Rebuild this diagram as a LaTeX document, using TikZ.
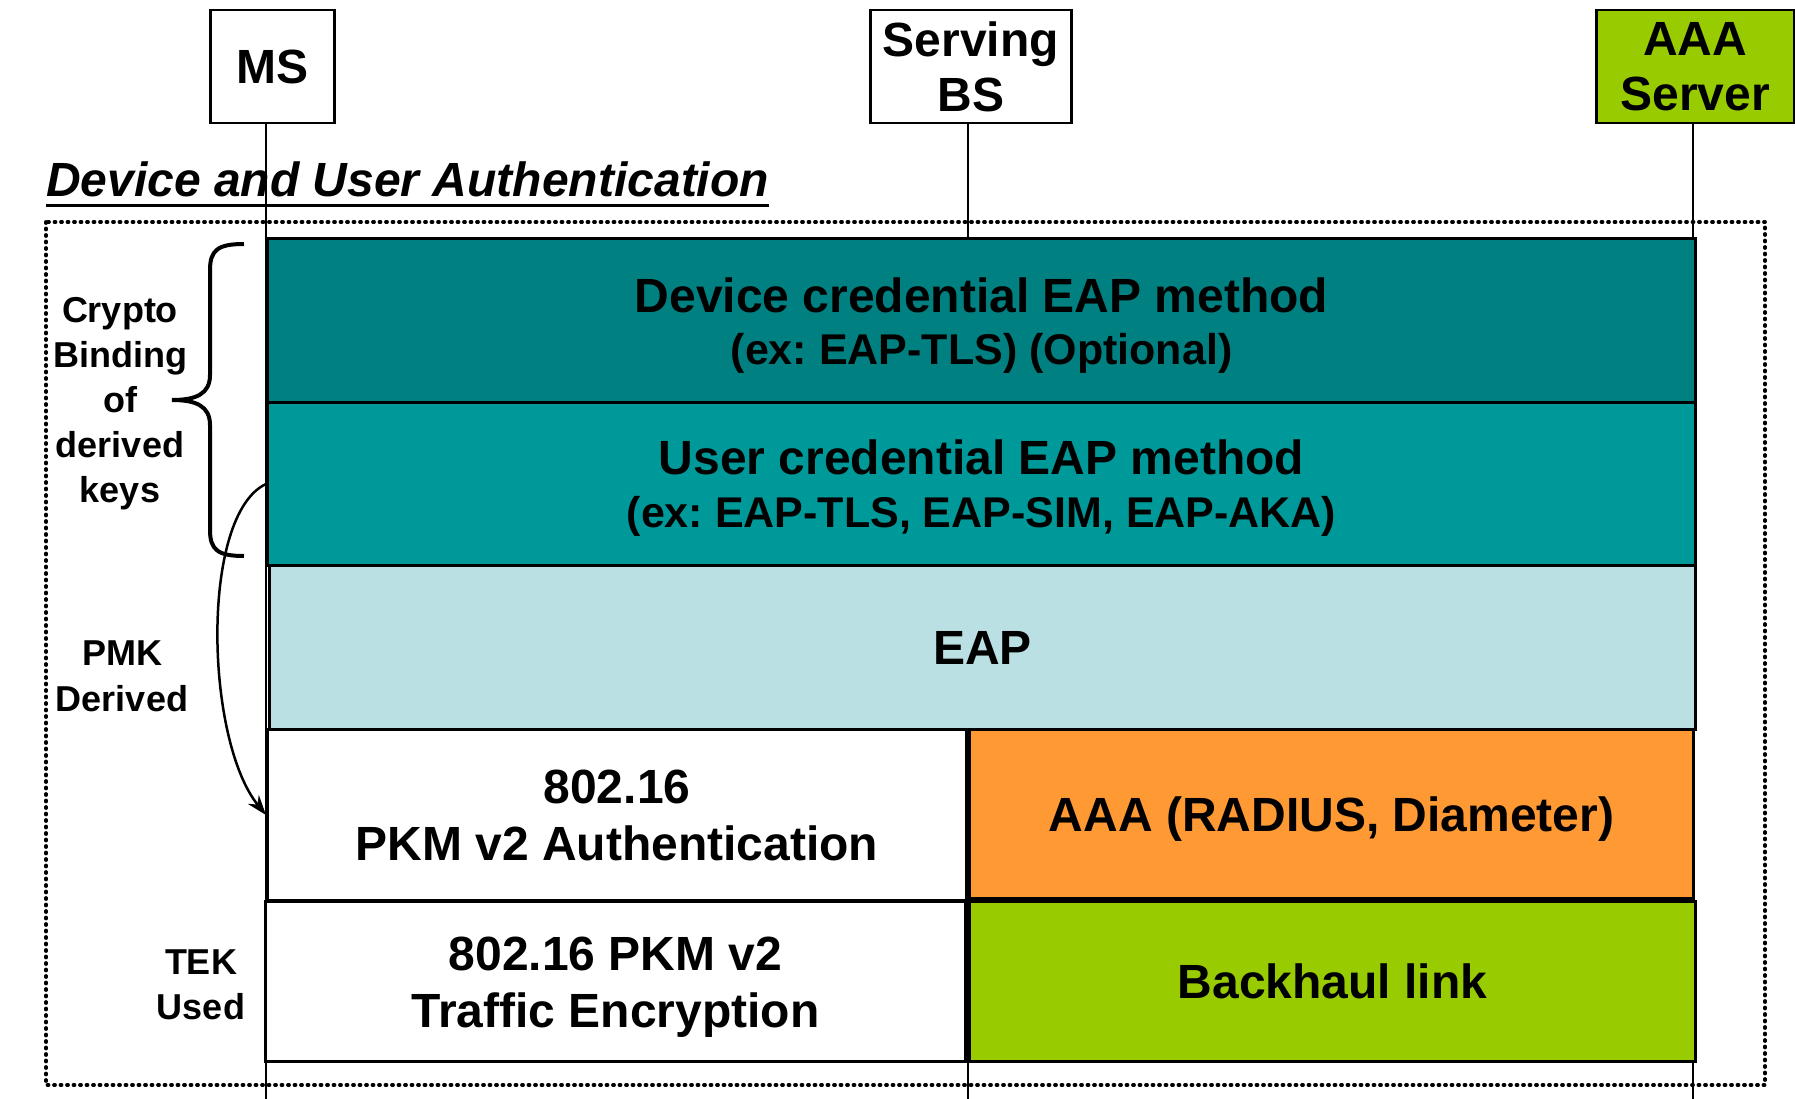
\documentclass[tikz,border=0pt]{standalone}
\usepackage{fontspec}
\setmainfont{Liberation Sans}
\usetikzlibrary{arrows.meta,calc}
\definecolor{devteal}{HTML}{008080}
\definecolor{usrteal}{HTML}{009999}
\definecolor{eapblue}{HTML}{BBE0E3}
\definecolor{aaaorange}{HTML}{FF9933}
\definecolor{limegreen}{HTML}{99CC00}
\newcommand\shiftdown[2]{\raisebox{-#1}[\height][\depth]{#2}}
\tikzset{
  hdr/.style={draw=black, line width=2.5pt, inner sep=0pt, align=center, anchor=north west,
    font=\fontsize{48}{55}\selectfont\bfseries},
  layer/.style={draw=black, line width=3pt, inner sep=0pt, align=center, anchor=north west,
    font=\fontsize{48}{55}\selectfont\bfseries},
  side/.style={align=center, inner sep=0pt, font=\fontsize{36}{45}\selectfont\bfseries},
  life/.style={line width=2pt},
  dotbox/.style={line width=3.8pt, line cap=round, dash pattern=on 1pt off 5.5pt},
}
\frenchspacing
\begin{document}
\begin{tikzpicture}[x=1pt,y=-1pt]
\useasboundingbox (0,0) rectangle (1795,1099);

% header boxes
\node[hdr, fill=white, minimum width=124pt, minimum height=113pt] (ms) at (209,9) {MS};
\node[hdr, fill=white, minimum width=201pt, minimum height=113pt] (bs) at (869,9) {Serving\\BS};
\node[hdr, fill=limegreen, minimum width=198pt, minimum height=113pt] (aaas) at (1595,9) {AAA\\Server};

% title
\node[anchor=base west, inner sep=0pt, font=\fontsize{48}{55}\selectfont\bfseries\itshape] (title) at (46,197) {Device and User Authentication};
\draw[line width=3pt] ([yshift=-9pt]title.base west) -- ([yshift=-9pt]title.base east);

% dotted frame
\draw[dotbox] (46,222) rectangle (1765,1085);

% lifelines
\coordinate (msbot) at (266,1099);
\coordinate (bsbot) at (968,1099);
\coordinate (aaabot) at (1693,1099);
\draw[life] (ms.south -| msbot) -- (msbot);
\draw[life] (bs.south -| bsbot) -- (bsbot);
\draw[life] (aaas.south -| aaabot) -- (aaabot);

% layers
\node[layer, fill=devteal, minimum width=1428pt, minimum height=164pt,
  font=\fontsize{48}{52}\selectfont\bfseries] (dev) at (266,237)
  {\shiftdown{5pt}{Device credential EAP method}\\\fontsize{43}{52}\selectfont\shiftdown{5pt}{(ex: EAP-TLS) (Optional)}};
\node[layer, fill=usrteal, minimum width=1428pt, minimum height=163pt,
  font=\fontsize{48}{53}\selectfont\bfseries] (usr) at (266,401)
  {\shiftdown{4.5pt}{User credential EAP method}\\\fontsize{43}{53}\selectfont\shiftdown{4.5pt}{(ex: EAP-TLS, EAP-SIM, EAP-AKA)}};
\node[layer, fill=eapblue, minimum width=1426pt, minimum height=164pt] (eap) at (268,564) {EAP};
\node[layer, fill=white, minimum width=699pt, minimum height=171pt,
  font=\fontsize{48}{57}\selectfont\bfseries] (pkm) at (266,728)
  {802.16\\PKM v2 Authentication};
\node[layer, fill=aaaorange, minimum width=724pt, minimum height=169pt] (aaa) at (968,728)
  {\shiftdown{5.5pt}{AAA (RADIUS, Diameter)}};
\node[layer, fill=white, minimum width=700pt, minimum height=160pt,
  font=\fontsize{48}{57}\selectfont\bfseries] (tek) at (264,900)
  {\shiftdown{5.5pt}{802.16 PKM v2}\\\shiftdown{5.5pt}{Traffic Encryption}};
\node[layer, fill=limegreen, minimum width=726pt, minimum height=160pt] (bh) at (968,900)
  {Backhaul link};

% side labels
\node[side] (crypto) at (120,404) {Crypto\\Binding\\of\\derived\\keys};
\node[side, font=\fontsize{36}{46}\selectfont\bfseries] (pmk) at (122,676) {PMK\\Derived};
\node[side] (tekused) at (201,985) {TEK\\Used};

% brace
\draw[line width=4pt] (244,244) .. controls (218,244) and (210,250) .. (210,270)
  -- (210,375) .. controls (210,394) and (196,400) .. (172,400)
  .. controls (196,400) and (210,406) .. (210,425)
  -- (210,530) .. controls (210,550) and (218,556) .. (244,556);

% PMK derived arrow
\draw[line width=2.5pt, -{Stealth[length=20pt,width=14pt]}] (usr.west)
  .. controls (200,515) and (205,740) .. (pkm.west);
\end{tikzpicture}
\end{document}
